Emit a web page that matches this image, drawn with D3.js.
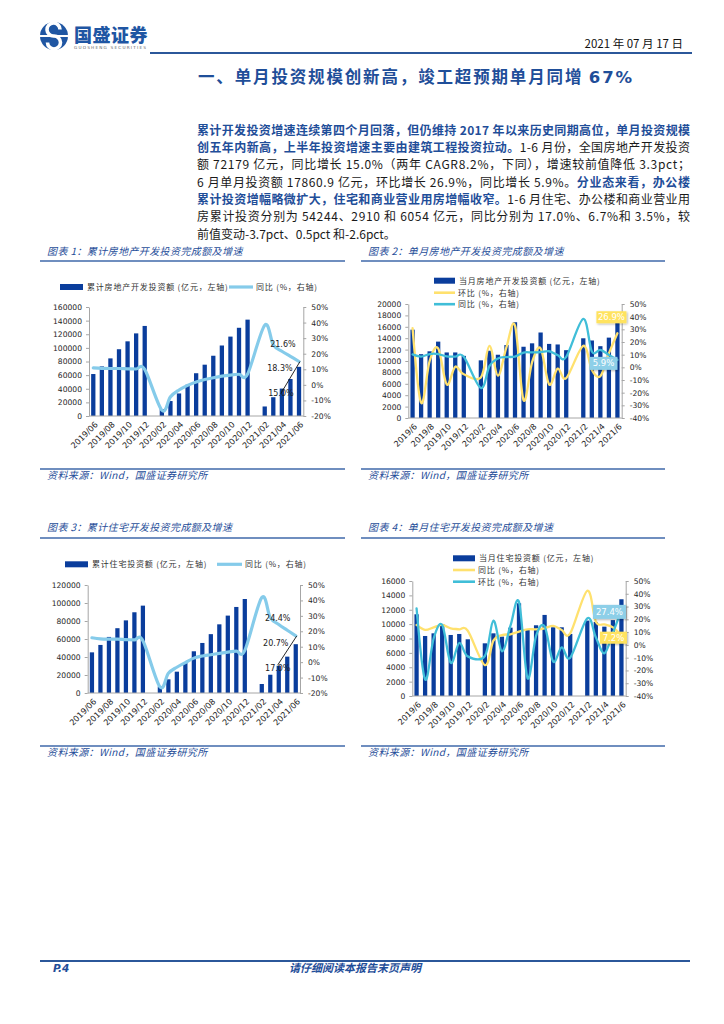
<!DOCTYPE html>
<html><head><meta charset="utf-8">
<script src="https://cdn.jsdelivr.net/npm/d3@7"></script>
<style>body{margin:0;background:#fff}svg{display:block}</style>
</head><body>
<svg id="page" width="724" height="1024"></svg>
<script>
// ---------------- DATA ----------------
const monthsA = ["2019/06","2019/07","2019/08","2019/09","2019/10","2019/11","2019/12","2020/01","2020/02","2020/03","2020/04","2020/05","2020/06","2020/07","2020/08","2020/09","2020/10","2020/11","2020/12","2021/01","2021/02","2021/03","2021/04","2021/05","2021/06"];
const monthsB = ["2019/6","2019/7","2019/8","2019/9","2019/10","2019/11","2019/12","2020/1","2020/2","2020/3","2020/4","2020/5","2020/6","2020/7","2020/8","2020/9","2020/10","2020/11","2020/12","2021/1","2021/2","2021/3","2021/4","2021/5","2021/6"];
const xLabelsA = ["2019/06","2019/08","2019/10","2019/12","2020/02","2020/04","2020/06","2020/08","2020/10","2020/12","2021/02","2021/04","2021/06"];
const xLabelsB = ["2019/6","2019/8","2019/10","2019/12","2020/2","2020/4","2020/6","2020/8","2020/10","2020/12","2021/2","2021/4","2021/6"];

// Chart 1: cumulative real-estate development investment (亿元) and YoY (%)
const cumInvest    = [61609,72843,84589,98008,109603,121265,132194,null,10115,21963,33103,45920,62780,75325,88454,103484,116556,129492,141443,null,13986,27576,40240,54318,72179];
const cumInvestYoY = [10.9,10.6,10.5,10.5,10.3,10.2,9.9,null,-16.3,-7.7,-3.3,-0.3,1.9,3.4,4.6,5.6,6.3,6.8,7.0,null,38.3,25.6,21.6,18.3,15.0];

// Chart 2: monthly real-estate development investment, MoM and YoY
const monInvest    = [15500,11200,11700,13400,11500,11500,10900,null,10115,11800,11100,12800,16800,12500,13100,15000,13000,12900,11900,null,13986,13600,12600,14100,17861];
const monInvestMoM = [31,-28,5,15,-13.5,0.5,-5.5,null,-8,17,-6.5,16,33,-26,4,15,-13.5,-1,-8.5,null,17,-2,-7,11,26.9];
const monInvestYoY = [10.2,8.5,10.5,10.5,8.6,8.5,8.3,null,-16.3,1.0,7.0,8.1,8.5,11.7,11.8,12.0,12.7,9.6,8.3,null,38.3,12.5,13.7,9.8,5.9];

// Chart 3: cumulative residential investment and YoY
const cumResi    = [45167,53400,62300,72000,80700,89700,97071,null,7267,15200,23700,33400,46350,55600,65400,76300,86000,95600,104446,null,10000,20300,30300,40400,54244];
const cumResiYoY = [15.8,15.1,14.9,14.9,14.6,14.4,13.9,null,-16.0,-7.2,-3.3,-0.3,2.6,4.0,4.8,5.7,6.5,7.2,7.6,null,41.9,28.8,24.4,20.7,17.0];

// Chart 4: monthly residential investment, YoY and MoM
const monResi    = [11370,8350,8720,10020,8490,8630,7890,null,7330,8720,8260,9510,12900,9190,9840,11280,9560,9560,8630,null,10490,10300,9650,10560,13460];
const monResiYoY = [15.6,11.7,13.7,15.6,13,12.2,11.1,null,-15.8,3.3,7.7,8.3,10.4,12.2,12.2,13,14.8,11.7,9,null,42.4,18.2,16,13.7,7.2];
const monResiMoM = [28.6,-27,5,15.6,-14,1.5,-9,null,-8.7,19,-5,15,33.6,-26,7,14.5,-13,-2,-10,null,20.8,6,-6.6,9.4,27.4];

const ticksLeft1  = [0,20000,40000,60000,80000,100000,120000,140000,160000];
const ticksRight1 = [-20,-10,0,10,20,30,40,50];
const ticksLeft2  = [0,2000,4000,6000,8000,10000,12000,14000,16000,18000,20000];
const ticksRight2 = [-40,-30,-20,-10,0,10,20,30,40,50];
const ticksLeft3  = [0,20000,40000,60000,80000,100000,120000];
const ticksRight3 = [-20,-10,0,10,20,30,40,50];
const ticksLeft4  = [0,2000,4000,6000,8000,10000,12000,14000,16000];
const ticksRight4 = [-40,-30,-20,-10,0,10,20,30,40,50];

// ---------------- STYLE ----------------
const cjk = "'Noto Sans CJK SC', sans-serif";
const axisFont = "'DejaVu Sans', sans-serif";
const blue = "#1F4E99";
const barColor = "#0A3D9C";
const lightBlue = "#85CBEA";
const yellow = "#FFE16E";
const cyan = "#40BED8";
const ruleBlue = "#3F69AA";

const svg = d3.select("#page");
const defs = svg.append("defs");
const f = defs.append("filter").attr("id","shadow").attr("x","-20%").attr("y","-30%").attr("width","150%").attr("height","170%");
f.append("feDropShadow").attr("dx",1).attr("dy",1).attr("stdDeviation",0.8).attr("flood-color","#000").attr("flood-opacity",0.3);

// ---------------- HEADER ----------------
svg.append("circle").attr("cx",54).attr("cy",36).attr("r",14).attr("fill","#1F56A3");
svg.append("path").attr("d","M60,29.5 A6.5,6.5 0 1 0 54,36 A6.5,6.5 0 1 1 47.5,42.5")
  .attr("fill","none").attr("stroke","#fff").attr("stroke-width",3.6);
svg.append("rect").attr("x",40).attr("y",35).attr("width",28).attr("height",2).attr("fill","#fff");
svg.append("text").attr("x",74).attr("y",42).attr("font-family",cjk).attr("font-weight",900)
  .attr("font-size",18).attr("fill","#1F56A3").attr("letter-spacing",0.5).text("国盛证券");
svg.append("text").attr("x",74).attr("y",49).attr("font-family",axisFont).attr("font-size",4.2)
  .attr("fill","#666").attr("textLength",72).attr("lengthAdjust","spacing").text("GUOSHENG SECURITIES");
svg.append("text").attr("x",683).attr("y",48).attr("text-anchor","end").attr("font-family",cjk)
  .attr("font-size",11.5).attr("fill","#111").text("2021 年 07 月 17 日");
svg.append("line").attr("x1",150).attr("x2",692).attr("y1",53).attr("y2",53).attr("stroke","#2B579A").attr("stroke-width",2);

function justify(t, target) {
  const nat = t.node().getComputedTextLength();
  const n = [...t.text()].length;
  t.attr("letter-spacing", (target - nat) / (n - 1));
}

const title = svg.append("text").attr("x",198).attr("y",82.5).attr("font-family",cjk)
  .attr("font-size",16.5).attr("font-weight",700).attr("fill",blue);
title.append("tspan").text("一、单月投资规模创新高，竣工超预期单月同增 ");
title.append("tspan").attr("font-family","'DejaVu Sans', sans-serif").text("67%");
justify(title, 434);

// ---------------- PARAGRAPH ----------------
const paraLines = [
  [["累计开发投资增速连续第四个月回落，但仍维持 2017 年以来历史同期高位，单月投资规模","b"]],
  [["创五年内新高，上半年投资增速主要由建筑工程投资拉动。","b"],["1-6 月份，全国房地产开发投资","n"]],
  [["额 72179 亿元，同比增长 15.0%（两年 CAGR8.2%，下同），增速较前值降低 3.3pct；","n"]],
  [["6 月单月投资额 17860.9 亿元，环比增长 26.9%，同比增长 5.9%。","n"],["分业态来看，办公楼","b"]],
  [["累计投资增幅略微扩大，住宅和商业营业用房增幅收窄。","b"],["1-6 月住宅、办公楼和商业营业用","n"]],
  [["房累计投资分别为 54244、2910 和 6054 亿元，同比分别为 17.0%、6.7%和 3.5%，较","n"]],
  [["前值变动-3.7pct、0.5pct 和-2.6pct。","n"]]
];
paraLines.forEach((segs, i) => {
  const t = svg.append("text").attr("x",197).attr("y",134.6 + i*17.35)
    .attr("font-family",cjk).attr("font-size",12);
  segs.forEach(([s,k]) => t.append("tspan").text(s)
    .attr("fill", k==="b" ? blue : "#1a1a1a").attr("font-weight", k==="b" ? 700 : 400));
  if (i < paraLines.length - 1) justify(t, 493);
});

// ---------------- CHART HELPERS ----------------
function frame(x0, x1, yTitle, yRule, ySrcRule, label) {
  svg.append("text").attr("x",x0+7).attr("y",yTitle+3.5).attr("font-family",cjk).attr("font-size",10)
    .attr("font-style","italic").attr("fill",blue).attr("letter-spacing",0.4).text(label);
  svg.append("line").attr("x1",x0).attr("x2",x1).attr("y1",yRule).attr("y2",yRule).attr("stroke",ruleBlue).attr("stroke-width",1.5);
  svg.append("line").attr("x1",x0).attr("x2",x1).attr("y1",ySrcRule).attr("y2",ySrcRule).attr("stroke",ruleBlue).attr("stroke-width",1.5);
  svg.append("text").attr("x",x0+7).attr("y",ySrcRule+9.5).attr("font-family",cjk).attr("font-size",10)
    .attr("font-style","italic").attr("fill",blue).attr("letter-spacing",0.4).text("资料来源：Wind，国盛证券研究所");
}

function legendBar(x, y, w, label) {
  svg.append("rect").attr("x",x).attr("y",y-3).attr("width",w).attr("height",6).attr("fill",barColor);
  svg.append("text").attr("x",x+w+4).attr("y",y).attr("dy","0.35em").attr("font-family",cjk)
    .attr("font-size",8).attr("fill","#333").attr("letter-spacing",0.8).text(label);
}
function legendLine(x, y, w, color, sw, label) {
  svg.append("line").attr("x1",x).attr("x2",x+w).attr("y1",y).attr("y2",y).attr("stroke",color).attr("stroke-width",sw);
  svg.append("text").attr("x",x+w+3).attr("y",y).attr("dy","0.35em").attr("font-family",cjk)
    .attr("font-size",8).attr("fill","#333").attr("letter-spacing",0.8).text(label);
}

function drawChart(o) {
  const g = svg.append("g");
  const x = d3.scaleBand().domain(o.cats).range([o.x0,o.x1]).paddingInner(0.5).paddingOuter(0.25);
  const yL = d3.scaleLinear().domain([o.leftTicks[0], o.leftTicks[o.leftTicks.length-1]]).range([o.y1,o.y0]);
  const yR = d3.scaleLinear().domain([o.rightTicks[0], o.rightTicks[o.rightTicks.length-1]]).range([o.y1,o.y0]);
  const xc = c => x(c) + x.bandwidth()/2;

  const barData = o.cats.map((c,i)=>({c, v:o.bars[i]})).filter(d=>d.v!=null);
  g.selectAll("rect.bar").data(barData).join("rect").attr("class","bar")
    .attr("x",d=>x(d.c)).attr("width",x.bandwidth())
    .attr("y",d=>yL(d.v)).attr("height",d=>yL(0)-yL(d.v)).attr("fill",barColor);

  o.lines.forEach(L => {
    const pts = o.cats.map((c,i)=>[c, L.values[i]]).filter(d=>d[1]!=null);
    const line = d3.line().x(d=>xc(d[0])).y(d=>yR(d[1])).curve(d3.curveCardinal.tension(0));
    g.append("path").attr("d",line(pts)).attr("fill","none").attr("stroke",L.color)
      .attr("stroke-width",L.width).attr("stroke-linejoin","round").attr("stroke-linecap","round");
  });

  const styleAxis = a => {
    a.attr("font-family",axisFont).attr("font-size",7.6);
    a.select(".domain").attr("stroke","#A6A6A6");
    a.selectAll(".tick line").attr("stroke","#A6A6A6");
    a.selectAll(".tick text").attr("fill","#262626");
  };
  const aL = g.append("g").attr("transform",`translate(${o.x0},0)`)
    .call(d3.axisLeft(yL).tickValues(o.leftTicks).tickFormat(d3.format("d")).tickSize(3).tickSizeOuter(0).tickPadding(4));
  styleAxis(aL);
  const aR = g.append("g").attr("transform",`translate(${o.x1},0)`)
    .call(d3.axisRight(yR).tickValues(o.rightTicks).tickFormat(d=>d+"%").tickSize(3).tickSizeOuter(0).tickPadding(5));
  styleAxis(aR);
  const aX = g.append("g").attr("transform",`translate(0,${o.y1})`)
    .call(d3.axisBottom(x).tickValues(o.xLabels).tickSize(0).tickSizeOuter(0));
  styleAxis(aX);
  aX.select(".domain").attr("d",`M${o.x0},0H${o.x1}`);
  aX.selectAll(".tick text").attr("x",0).attr("y",0).attr("dy","0.35em")
    .attr("text-anchor","end").attr("font-size",8.2).attr("transform","translate(3,7) rotate(-45)");
  return {x, xc, yL, yR};
}

function valueLabel(x, y, txt) {
  svg.append("text").attr("x",x).attr("y",y).attr("dy","0.35em").attr("text-anchor","middle")
    .attr("font-family",axisFont).attr("font-size",8).attr("fill","#222").text(txt);
}
function boxLabel(cx, cy, w, h, fill, txt) {
  svg.append("rect").attr("x",cx-w/2).attr("y",cy-h/2).attr("width",w).attr("height",h)
    .attr("fill",fill).attr("filter","url(#shadow)");
  svg.append("text").attr("x",cx).attr("y",cy).attr("dy","0.35em").attr("text-anchor","middle")
    .attr("font-family",axisFont).attr("font-size",8.5).attr("fill","#fff").text(txt);
}

// ---------------- CHART 1 ----------------
frame(40, 345, 251, 261, 469, "图表 1：累计房地产开发投资完成额及增速");
legendBar(60, 287, 23, "累计房地产开发投资额 (亿元，左轴)");
legendLine(229, 287, 24, lightBlue, 3.2, "同比 (%，右轴)");
const c1 = drawChart({x0:89, x1:303.3, y0:307, y1:416, cats:monthsA, bars:cumInvest,
  lines:[{values:cumInvestYoY, color:lightBlue, width:3.2}],
  leftTicks:ticksLeft1, rightTicks:ticksRight1, xLabels:xLabelsA});
{
  const i4 = monthsA[22], i6 = monthsA[24];
  valueLabel(c1.xc(i4)+1, c1.yR(cumInvestYoY[22])-7, cumInvestYoY[22].toFixed(1)+"%");
  valueLabel(c1.xc(i4)-2, c1.yR(cumInvestYoY[23])+11.5, cumInvestYoY[23].toFixed(1)+"%");
  svg.append("line").attr("x1",c1.xc(i4)-1).attr("y1",c1.yR(cumInvestYoY[24])+32)
    .attr("x2",c1.xc(i6)+1).attr("y2",c1.yR(cumInvestYoY[24])).attr("stroke","#111").attr("stroke-width",0.9);
  valueLabel(c1.xc(i4)-1, c1.yR(cumInvestYoY[24])+31.5, cumInvestYoY[24].toFixed(1)+"%");
}

// ---------------- CHART 2 ----------------
frame(361, 665, 251, 261, 469, "图表 2：单月房地产开发投资完成额及增速");
legendBar(434, 280.7, 21, "当月房地产开发投资额 (亿元，左轴)");
legendLine(434, 292.7, 21, yellow, 2.6, "环比 (%，右轴)");
legendLine(434, 304.2, 21, cyan, 2.6, "同比 (%，右轴)");
const c2 = drawChart({x0:408.3, x1:621.7, y0:304, y1:418, cats:monthsB, bars:monInvest,
  lines:[{values:monInvestMoM, color:yellow, width:2.3},{values:monInvestYoY, color:cyan, width:2.3}],
  leftTicks:ticksLeft2, rightTicks:ticksRight2, xLabels:xLabelsB});
{
  const last = monthsB[24];
  boxLabel(c2.xc(last)-6, c2.yR(monInvestMoM[24])-16, 30, 12, "#FFE35E", monInvestMoM[24].toFixed(1)+"%");
  boxLabel(c2.xc(last)-14, c2.yR(monInvestYoY[24])+3.5, 28, 13, "#8DCFE8", monInvestYoY[24].toFixed(1)+"%");
}

// ---------------- CHART 3 ----------------
frame(40, 345, 527.5, 538, 746, "图表 3：累计住宅开发投资完成额及增速");
legendBar(65, 564.3, 23, "累计住宅投资额 (亿元，左轴)");
legendLine(217, 564.3, 25, lightBlue, 3.2, "同比 (%，右轴)");
const c3 = drawChart({x0:87.7, x1:300, y0:585, y1:693, cats:monthsA, bars:cumResi,
  lines:[{values:cumResiYoY, color:lightBlue, width:3.2}],
  leftTicks:ticksLeft3, rightTicks:ticksRight3, xLabels:xLabelsA});
{
  const i4 = monthsA[22], i6 = monthsA[24];
  valueLabel(c3.xc(i4)-1, c3.yR(cumResiYoY[22])-6.5, cumResiYoY[22].toFixed(1)+"%");
  valueLabel(c3.xc(i4)-3, c3.yR(cumResiYoY[23])+12.8, cumResiYoY[23].toFixed(1)+"%");
  svg.append("line").attr("x1",c3.xc(i4)-1).attr("y1",c3.yR(cumResiYoY[24])+29)
    .attr("x2",c3.xc(i6)+1).attr("y2",c3.yR(cumResiYoY[24])).attr("stroke","#111").attr("stroke-width",0.9);
  valueLabel(c3.xc(i4)-1, c3.yR(cumResiYoY[24])+32, cumResiYoY[24].toFixed(1)+"%");
}

// ---------------- CHART 4 ----------------
frame(361, 665, 527.5, 538, 746, "图表 4：单月住宅开发投资完成额及增速");
legendBar(453, 558.3, 22, "当月住宅投资额 (亿元，左轴)");
legendLine(453, 570, 22, yellow, 2.6, "同比 (%，右轴)");
legendLine(453, 581.7, 22, cyan, 2.6, "环比 (%，右轴)");
const c4 = drawChart({x0:412.3, x1:625.7, y0:581, y1:696, cats:monthsB, bars:monResi,
  lines:[{values:monResiYoY, color:yellow, width:2.3},{values:monResiMoM, color:cyan, width:2.3}],
  leftTicks:ticksLeft4, rightTicks:ticksRight4, xLabels:xLabelsB});
{
  const last = monthsB[24];
  boxLabel(c4.xc(last)-12, c4.yR(monResiMoM[24])+2, 33, 14, "#8DCFE8", monResiMoM[24].toFixed(1)+"%");
  boxLabel(c4.xc(last)-8, c4.yR(monResiYoY[24])+2, 27, 12, "#FFE35E", monResiYoY[24].toFixed(1)+"%");
}

// ---------------- FOOTER ----------------
svg.append("line").attr("x1",40).attr("x2",690).attr("y1",961).attr("y2",961).attr("stroke","#2B579A").attr("stroke-width",2);
svg.append("text").attr("x",53).attr("y",972).attr("font-family",axisFont).attr("font-size",10.5)
  .attr("font-weight",700).attr("font-style","italic").attr("fill",blue).text("P.4");
svg.append("text").attr("x",355).attr("y",972).attr("text-anchor","middle").attr("font-family",cjk)
  .attr("font-size",11).attr("font-weight",700).attr("font-style","italic").attr("fill",blue).text("请仔细阅读本报告末页声明");
</script>
</body></html>
